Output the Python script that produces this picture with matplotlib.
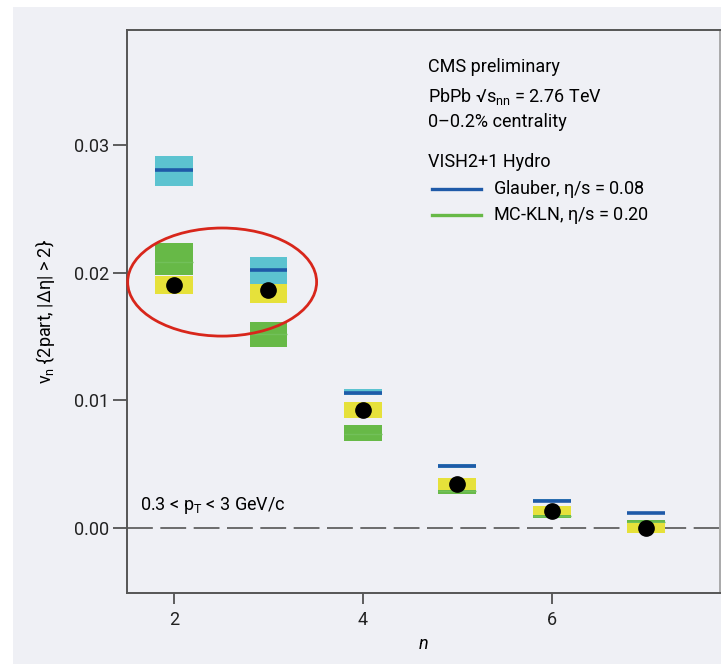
import matplotlib

matplotlib.use("Agg")
import matplotlib.pyplot as plt
from matplotlib.patches import Ellipse, Rectangle

plt.rcParams["font.family"] = ["Roboto", "DejaVu Sans"]
plt.rcParams["mathtext.fontset"] = "custom"
plt.rcParams["mathtext.rm"] = "Roboto"
plt.rcParams["mathtext.it"] = "Roboto:italic"

# harmonic order
n = [2, 3, 4, 5, 6, 7]

# CMS data points and systematic band
data_v = [0.0190, 0.0186, 0.00924, 0.00345, 0.00133, 0.0000]
data_lo = [0.0183, 0.0176, 0.0086, 0.0030, 0.0010, -0.0004]
data_hi = [0.0197, 0.0191, 0.0099, 0.0039, 0.0017, 0.0004]

# VISH2+1 Glauber, eta/s = 0.08
glau_v = [0.0280, 0.0202, 0.01057, 0.00486, 0.00214, 0.00115]
glau_lo = [0.0268, 0.0191, 0.0104, 0.0047, 0.0021, 0.0011]
glau_hi = [0.0291, 0.0212, 0.0109, 0.0050, 0.0023, 0.0012]

# VISH2+1 MC-KLN, eta/s = 0.20
kln_v = [0.0208, 0.0152, 0.0074, 0.0029, 0.00095, 0.0005]
kln_lo = [0.0198, 0.0142, 0.0068, 0.0027, 0.0008, 0.0004]
kln_hi = [0.0223, 0.0161, 0.0081, 0.0031, 0.0011, 0.0006]

C_CYAN = "#5cc3d0"
C_BLUE = "#1f5aa8"
C_GREEN = "#67b947"
C_GREEN_LINE = "#72c05a"
C_YELLOW = "#e6e13a"
BG = "#eff0f5"
W = 0.4

fig = plt.figure(figsize=(7.21, 6.64), dpi=100, facecolor="white")
fig.patches.append(Rectangle((13 / 721, 0), 1, 1 - 7 / 664, transform=fig.transFigure,
                             facecolor=BG, edgecolor="none", zorder=-10))
ax = fig.add_axes([127 / 721, 1 - 593 / 664, 593 / 721, 563 / 664])
ax.set_facecolor(BG)

ax.axhline(0, color="#555555", lw=1.2, dashes=(15.5, 4.5), zorder=1)

hb = lambda lo, hi: [h - l for l, h in zip(lo, hi)]
ax.bar(n, hb(glau_lo, glau_hi), bottom=glau_lo, width=W, color=C_CYAN, zorder=2)
ax.bar(n, hb(kln_lo, kln_hi), bottom=kln_lo, width=W, color=C_GREEN, zorder=2)
ax.bar(n, hb(data_lo, data_hi), bottom=data_lo, width=W, color=C_YELLOW, zorder=3)
ax.hlines(glau_v, [x - W / 2 for x in n], [x + W / 2 for x in n], color=C_BLUE, lw=2.6, zorder=4)
ax.hlines(kln_v, [x - W / 2 for x in n], [x + W / 2 for x in n], color=C_GREEN_LINE, lw=1.0, zorder=2.5)
ax.plot(n, data_v, "o", color="black", ms=11, zorder=5)

ax.add_patch(Ellipse((2.51, 0.01926), 2.00, 0.00846, fill=False, edgecolor="#d8261b",
                     lw=2.0, zorder=6, clip_on=False))

ax.set_xlim(1.503, 7.78)
ax.set_ylim(-0.00508, 0.03899)
ax.set_xticks([2, 4, 6])
ax.set_yticks([0.0, 0.01, 0.02, 0.03])
ax.set_yticklabels(["0.00", "0.01", "0.02", "0.03"])
ax.tick_params(axis="y", direction="out", length=10, width=1.2, color="#444444",
               labelsize=13, labelcolor="#222222", pad=3)
ax.tick_params(axis="x", direction="out", length=8, width=1.2, color="#444444",
               labelsize=13, labelcolor="#222222", pad=5)
for s in ax.spines.values():
    s.set_color("#555555")
    s.set_linewidth(1.4)
ax.spines["right"].set_color("#aaaaaa")

ax.set_xlabel("n", fontstyle="italic", fontsize=13, labelpad=4)
ax.set_ylabel(r"v$_\mathregular{n}$ {2part, |$\mathregular{\Delta\eta}$| > 2}", fontsize=13, labelpad=12)

tx = 0.508
ax.text(tx, 0.935, "CMS preliminary", transform=ax.transAxes, fontsize=13, va="center")
ax.text(tx, 0.882, r"PbPb √s$_\mathregular{nn}$ = 2.76 TeV", transform=ax.transAxes,
        fontsize=13, va="center")
ax.text(tx, 0.836, "0–0.2% centrality", transform=ax.transAxes, fontsize=13, va="center")
ax.text(tx, 0.765, "VISH2+1 Hydro", transform=ax.transAxes, fontsize=13, va="center")
ax.plot([0.514, 0.597], [0.718, 0.718], transform=ax.transAxes, color=C_BLUE, lw=2.4)
ax.text(0.617, 0.718, r"Glauber, $\mathregular{\eta}$/s = 0.08", transform=ax.transAxes,
        fontsize=13, va="center")
ax.plot([0.514, 0.597], [0.671, 0.671], transform=ax.transAxes, color=C_GREEN, lw=2.4)
ax.text(0.617, 0.671, r"MC-KLN, $\mathregular{\eta}$/s = 0.20", transform=ax.transAxes,
        fontsize=13, va="center")
ax.text(0.022, 0.155, r"0.3 < p$_\mathregular{T}$ < 3 GeV/c", transform=ax.transAxes,
        fontsize=13, va="center")

fig.savefig("out.png", dpi=100, facecolor=fig.get_facecolor())
